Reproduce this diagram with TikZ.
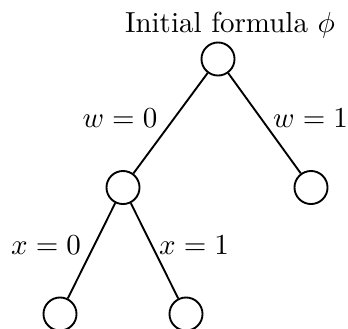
\documentclass[tikz,border=0pt]{standalone}
\begin{document}
\begin{tikzpicture}[x=0.345pt,y=-0.345pt,
  vertex/.style={circle,draw,line width=0.65pt,minimum size=11.4pt,inner sep=0pt},
  edge/.style={line width=0.65pt},
  lbl/.style={anchor=base,inner sep=0pt}]
\useasboundingbox (0,0) rectangle (348,328);
\node[lbl] (title) at (230,32) {Initial formula $\phi$};
\node[vertex] (r) at (218,59) {};
\node[vertex] (a) at (123,187.5) {};
\node[vertex] (b) at (311,187.5) {};
\node[vertex] (c) at (60,314) {};
\node[vertex] (d) at (186,314) {};
\draw[edge] (r) -- (a);
\draw[edge] (r) -- (b);
\draw[edge] (a) -- (c);
\draw[edge] (a) -- (d);
\node[lbl] (l1) at (120,127) {$w=0$};
\node[lbl] (l2) at (310.5,127) {$w=1$};
\node[lbl] (l3) at (46,254) {$x=0$};
\node[lbl] (l4) at (194,254) {$x=1$};
\end{tikzpicture}
\end{document}
